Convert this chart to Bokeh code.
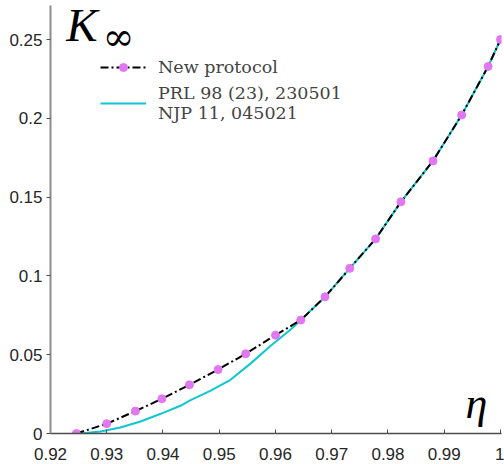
from bokeh.plotting import figure
from bokeh.models import (Range1d, FixedTicker, CustomJSTickFormatter, Legend,
                          LegendItem, Label)
from bokeh.embed import file_html
from bokeh.resources import INLINE

# ---- data ----
eta_new = [0.9246, 0.9300, 0.9351, 0.9398, 0.9447, 0.9498, 0.9547, 0.9600,
           0.9645, 0.9688, 0.9732, 0.9778, 0.9823, 0.9880, 0.9931, 0.9978, 1.0000]
k_new = [0.0, 0.0062, 0.0142, 0.0220, 0.0309, 0.0406, 0.0506, 0.0624,
         0.0720, 0.0867, 0.1048, 0.1235, 0.1470, 0.1730, 0.2021, 0.2329, 0.2500]

eta_prl = [0.9253, 0.9289, 0.9324, 0.9360, 0.9396, 0.9431, 0.9449, 0.9484,
           0.9520, 0.9556, 0.9591, 0.9627, 0.9645, 0.9688, 0.9732, 0.9778,
           0.9823, 0.9880, 0.9931, 0.9978, 1.0000]
k_prl = [0.0, 0.0013, 0.0038, 0.0076, 0.0125, 0.0176, 0.0212, 0.0271,
         0.0341, 0.0445, 0.0555, 0.0660, 0.0720, 0.0867, 0.1048, 0.1235,
         0.1470, 0.1730, 0.2021, 0.2329, 0.2500]

x_ticks = [0.92, 0.93, 0.94, 0.95, 0.96, 0.97, 0.98, 0.99, 1.0]
y_ticks = [0, 0.05, 0.1, 0.15, 0.2, 0.25]

label_new = "New protocol"
label_prl = "PRL 98 (23), 230501\nNJP 11, 045021"

MAG = "#E277F3"
CYAN = "#10C6D0"
TICK_FONT = "Liberation Sans"
TICK_COLOR = "#262626"

p = figure(width=504, height=464, output_backend="svg", toolbar_location=None,
           x_range=Range1d(0.92, 1.00018), y_range=Range1d(0, 0.2716),
           min_border_left=50, min_border_right=3, min_border_top=5,
           min_border_bottom=31)
p.outline_line_color = None
p.grid.visible = False
p.background_fill_color = "white"

xa = p.xaxis[0]
xa.ticker = FixedTicker(ticks=x_ticks)
xa.formatter = CustomJSTickFormatter(code="return String(tick)")
xa.major_tick_in = 4
xa.major_tick_out = 0
xa.minor_tick_in = 0
xa.minor_tick_out = 0
xa.axis_line_color = "#4d4d4d"
xa.axis_line_width = 1.5
xa.major_tick_line_color = "#4d4d4d"
xa.major_label_text_font = TICK_FONT
xa.major_label_text_font_size = "17px"
xa.major_label_text_color = TICK_COLOR
xa.major_label_standoff = 14

ya = p.yaxis[0]
ya.ticker = FixedTicker(ticks=y_ticks)
ya.formatter = CustomJSTickFormatter(code="return String(tick)")
ya.major_tick_in = 0
ya.major_tick_out = 4
ya.minor_tick_in = 0
ya.minor_tick_out = 0
ya.axis_line_color = "#8c8c8c"
ya.axis_line_width = 2
ya.major_tick_line_color = "#4d4d4d"
ya.major_label_text_font = TICK_FONT
ya.major_label_text_font_size = "17px"
ya.major_label_text_color = TICK_COLOR
ya.major_label_standoff = 4

r_prl = p.line(eta_prl, k_prl, line_color=CYAN, line_width=2)
r_line = p.line(eta_new, k_new, line_color="black", line_width=2,
                line_dash="8 3 2 3")
r_pts = p.scatter(eta_new, k_new, size=8, fill_color=MAG, line_color=MAG)

legend = Legend(items=[LegendItem(label=label_new, renderers=[r_line, r_pts]),
                       LegendItem(label=label_prl, renderers=[r_prl])],
                location=(50, 310), padding=0, margin=0, spacing=6,
                glyph_width=46, glyph_height=20, label_standoff=12,
                label_text_font="DejaVu Serif", label_text_font_size="17.5px",
                label_text_line_height=1.15,
                border_line_alpha=0, background_fill_alpha=0)
p.add_layout(legend)

p.add_layout(Label(x=0.9228, y=0.2592, text="K", text_font="Liberation Serif",
                   text_font_style="italic", text_font_size="47px",
                   text_baseline="alphabetic", text_color="black"))
p.add_layout(Label(x=0.9293, y=0.2519, text="∞", text_font="DejaVu Serif",
                   text_font_size="38px", text_baseline="middle",
                   text_color="black"))
p.add_layout(Label(x=0.99378, y=0.0188, text="η", text_font="Liberation Serif",
                   text_font_style="italic", text_font_size="44px",
                   text_baseline="alphabetic", text_color="black"))

open("out.html", "w").write(file_html(p, INLINE))
